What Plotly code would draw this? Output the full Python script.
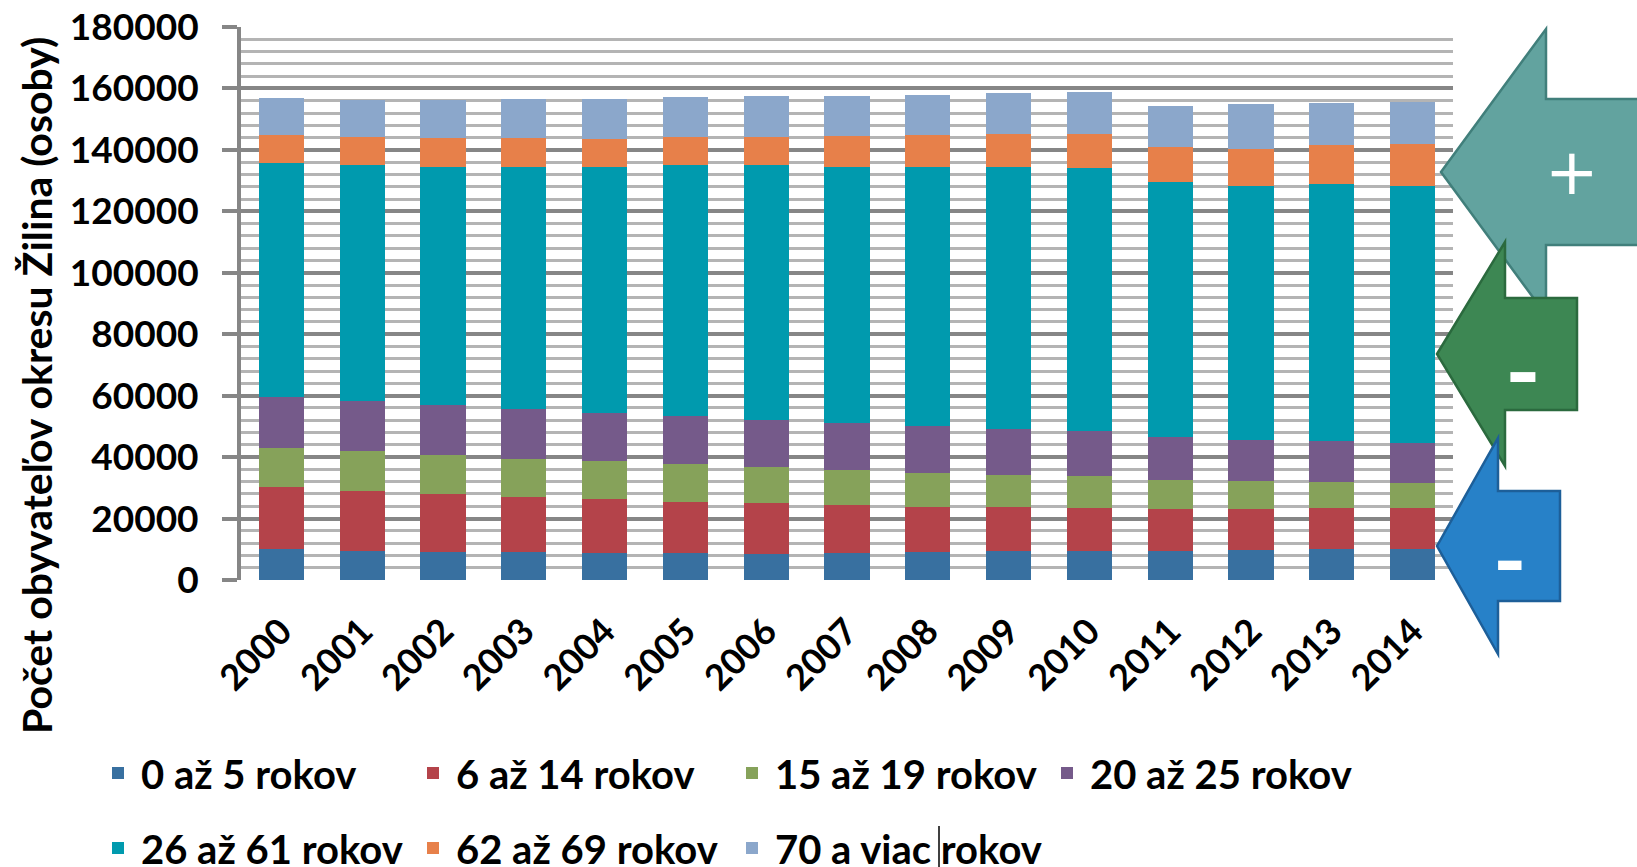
import plotly.graph_objects as go

years = [str(y) for y in range(2000, 2015)]

age_0_5 = [10150, 9500, 9270, 9040, 8840, 8840, 8460, 8840, 9100, 9370, 9370, 9590, 9820, 10150, 10150]
age_6_14 = [20150, 19600, 18860, 18110, 17560, 16690, 16520, 15490, 14580, 14310, 14110, 13560, 13330, 13170, 13170]
age_15_19 = [12790, 13010, 12680, 12360, 12240, 12260, 11700, 11380, 11180, 10630, 10280, 9310, 8980, 8480, 8290]
age_20_25 = [16490, 16170, 16040, 16040, 15730, 15480, 15290, 15280, 15160, 14850, 14630, 13980, 13560, 13340, 13010]
age_26_61 = [76090, 76840, 77720, 79020, 80200, 81740, 83040, 83580, 84550, 85210, 85750, 83150, 82600, 83690, 83670]
age_62_69 = [9210, 9000, 9230, 9230, 9010, 9220, 9330, 9990, 10130, 10830, 11060, 11280, 12140, 12790, 13660]
age_70_plus = [11930, 12140, 12460, 12680, 12900, 13010, 13120, 13000, 13180, 13220, 13550, 13540, 14530, 13760, 13760]

series_names = ["0 až 5 rokov", "6 až 14 rokov", "15 až 19 rokov", "20 až 25 rokov",
                "26 až 61 rokov", "62 až 69 rokov", "70 a viac rokov"]
series_values = [age_0_5, age_6_14, age_15_19, age_20_25, age_26_61, age_62_69, age_70_plus]
series_colors = ["#3870A0", "#B4434A", "#86A25A", "#755A8A", "#009AAE", "#E7804A", "#8BA7CB"]
series_legends = ["legend", "legend", "legend2", "legend2", "legend3", "legend3", "legend4"]

y_title = "Počet obyvateľov okresu Žilina (osoby)"

W, H = 1637, 867
L, R, T, B = 241, 184, 27, 287
PW, PH = W - L - R, H - T - B


def px(x):
    return (x - L) / PW


def py(y):
    return (H - B - y) / PH


FONT = "Lato"

fig = go.Figure()
for name, vals, col, leg in zip(series_names, series_values, series_colors, series_legends):
    fig.add_trace(go.Bar(
        x=years, y=vals, name=name,
        marker=dict(color=col, line=dict(width=0)),
        legend=leg,
    ))


def arrow(tip_x, tip_y, head_x, head_half, shaft_half, right_x, fill, line):
    pts = [
        (tip_x, tip_y),
        (head_x, tip_y - head_half),
        (head_x, tip_y - shaft_half),
        (right_x, tip_y - shaft_half),
        (right_x, tip_y + shaft_half),
        (head_x, tip_y + shaft_half),
        (head_x, tip_y + head_half),
    ]
    path = "M " + " L ".join(f"{px(a):.5f},{py(b):.5f}" for a, b in pts) + " Z"
    return dict(type="path", xref="paper", yref="paper", path=path,
                fillcolor=fill, line=dict(color=line, width=2.5), layer="above")


shapes = [
    arrow(1441, 172, 1546, 143, 73, 1650, "#62A39F", "#417F7B"),
    arrow(1437, 354, 1505, 112, 56, 1577, "#3D8753", "#2B6A3E"),
    arrow(1437, 546, 1498, 108, 55, 1560, "#2781C8", "#1D5F99"),
    dict(type="line", xref="paper", yref="paper",
         x0=px(939), x1=px(939), y0=py(826), y1=py(867),
         line=dict(color="#000000", width=1.5)),
]

annotations = [
    dict(text="+", x=px(1572), y=py(172), xref="paper", yref="paper", showarrow=False,
         font=dict(family="DejaVu Sans", size=64, color="white"), xanchor="center", yanchor="middle"),
    dict(text="-", x=px(1523), y=py(368), xref="paper", yref="paper", showarrow=False,
         font=dict(family=FONT, size=96, color="white", weight=700), xanchor="center", yanchor="middle"),
    dict(text="-", x=px(1510), y=py(558), xref="paper", yref="paper", showarrow=False,
         font=dict(family=FONT, size=90, color="white", weight=700), xanchor="center", yanchor="middle"),
    dict(text=y_title, x=px(36), y=py(386), xref="paper", yref="paper", showarrow=False,
         textangle=-90, font=dict(family=FONT, size=41, color="black", weight=700),
         xanchor="center", yanchor="middle"),
]

legend_common = dict(
    orientation="h", xref="container", yref="container",
    xanchor="left", yanchor="middle",
    font=dict(family=FONT, size=40, color="black", weight=700),
    entrywidth=264, entrywidthmode="pixels", itemwidth=36,
    bgcolor="rgba(0,0,0,0)", borderwidth=0, traceorder="normal",
)
row1_y = 1 - 773 / H
row2_y = 1 - 848 / H
col1_x = 95 / W
col2_x = 729 / W

fig.update_layout(
    width=W, height=H,
    margin=dict(l=L, r=R, t=T, b=B, pad=0, autoexpand=False),
    paper_bgcolor="white", plot_bgcolor="white",
    barmode="stack", bargap=0.44,
    font=dict(family=FONT, color="black"),
    showlegend=True,
    legend=dict(legend_common, x=col1_x, y=row1_y),
    legend2=dict(legend_common, x=col2_x, y=row1_y),
    legend3=dict(legend_common, x=col1_x, y=row2_y),
    legend4=dict(legend_common, x=col2_x, y=row2_y),
    shapes=shapes,
    annotations=annotations,
    xaxis=dict(
        type="category", tickangle=-45, showgrid=False, zeroline=False,
        showline=False, ticks="", automargin=False, ticklabelstandoff=22,
        tickfont=dict(family=FONT, size=36, color="black", weight=700),
    ),
    yaxis=dict(
        range=[0, 180000], dtick=20000, tick0=0, tickformat="d",
        showgrid=True, gridcolor="#868686", gridwidth=4,
        zeroline=False, automargin=False,
        showline=True, linecolor="#868686", linewidth=4,
        ticks="outside", ticklen=15, tickwidth=4, tickcolor="#868686",
        ticklabelstandoff=16,
        tickfont=dict(family=FONT, size=37, color="black", weight=700),
        minor=dict(dtick=4000, showgrid=True, gridcolor="#B4B4B4", gridwidth=3, ticks=""),
        layer="below traces",
    ),
)

fig.write_html("out.html", config={"displayModeBar": False},
               post_script="document.body.style.margin='0';document.body.style.overflow='hidden';")
